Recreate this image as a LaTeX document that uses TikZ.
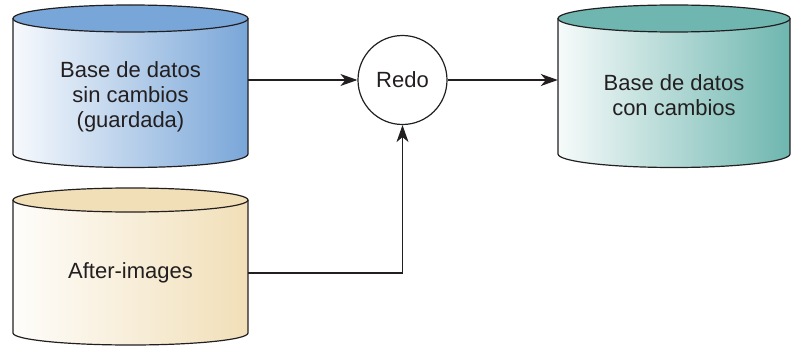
\documentclass[tikz,border=0pt]{standalone}
\usepackage{fontspec}
\setmainfont{Liberation Sans}
\usepackage{tikz}
\usetikzlibrary{calc, arrows.meta}

\definecolor{dbblue}{HTML}{79A6D8}
\definecolor{dbsand}{HTML}{F1DFB8}
\definecolor{dbteal}{HTML}{6EB6AF}
\definecolor{inkgray}{HTML}{231F20}

% cilindro: x izq, x der, y tapa, y fondo, radio y, color
\newcommand{\dbcyl}[6]{%
    \pgfmathsetmacro{\rx}{(#2-#1)/2}
    \pgfmathsetmacro{\cx}{(#1+#2)/2}
    \shade[left color=#6!6, right color=#6] (#1,#3) -- (#1,#4)
        arc[start angle=180, end angle=360, x radius=\rx, y radius=#5] -- (#2,#3) -- cycle;
    \fill[#6] (\cx,#3) ellipse[x radius=\rx, y radius=#5];
    \draw[cylline] (#1,#3) -- (#1,#4)
        arc[start angle=180, end angle=360, x radius=\rx, y radius=#5] -- (#2,#3);
    \draw[cylline] (\cx,#3) ellipse[x radius=\rx, y radius=#5];
}

\begin{document}
\begin{tikzpicture}[x=1pt, y=1pt,
    cylline/.style={line width=1.2pt, draw=inkgray},
    dbtext/.style={text=inkgray, align=center, inner sep=0pt,
        font=\fontsize{22}{25}\selectfont},
    flow/.style={line width=1.1pt, draw=inkgray,
        -{Stealth[length=17pt, width=12pt, inset=5pt]}}]
    \useasboundingbox (0,0) rectangle (791,354);

    % --- 1. cilindros ---
    \dbcyl{13}{248}{335.5}{200}{13.5}{dbblue}
    \dbcyl{13}{248}{154}{21}{12}{dbsand}
    \dbcyl{558}{790}{335.5}{200}{13.5}{dbteal}

    % --- 2. textos ---
    \node[dbtext, minimum width=235pt] (saved) at (130.5,257) {Base de datos\\sin cambios\\(guardada)};
    \node[dbtext, minimum width=235pt] (after) at (130.5,81) {After-images};
    \node[dbtext, minimum width=232pt] (changed) at (674,259) {Base de datos\\con cambios};

    % --- 3. proceso Redo ---
    \node[circle, draw=inkgray, line width=1.2pt, minimum size=89pt, inner sep=0pt,
        text=inkgray, font=\fontsize{22}{25}\selectfont] (redo) at (402.5,274) {Redo};

    % --- 4. flechas ---
    \draw[flow] (redo -| saved.east) -- (redo);
    \draw[flow] (redo) -- (redo -| changed.west);
    \draw[flow] (after.east) -| (redo);
\end{tikzpicture}
\end{document}
